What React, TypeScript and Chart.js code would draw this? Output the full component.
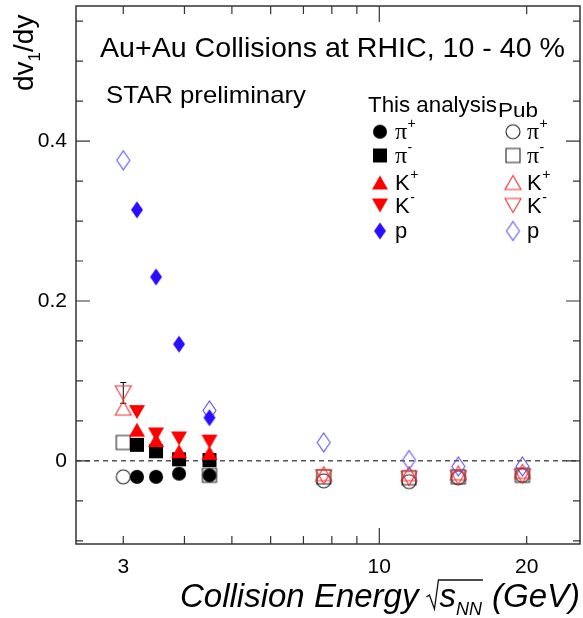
import React, { useEffect, useRef } from "react";
import { Chart, registerables } from "chart.js";

Chart.register(...registerables);

// ---------------- data ----------------
const energiesThis = [3.2, 3.5, 3.9, 4.5];
const thisPiPlus = [-0.02, -0.02, -0.016, -0.018];
const thisPiMinus = [0.02, 0.012, 0.002, 0.001];
const thisKPlus = [0.039, 0.026, 0.012, 0.01];
const thisKMinus = [0.061, 0.033, 0.028, 0.024];
const thisProton = [0.314, 0.23, 0.146, 0.054];

const energiesPub = [3.0, 4.5, 7.7, 11.5, 14.5, 19.6];
const pubPiPlus = [-0.02, null, -0.025, -0.026, -0.021, -0.018];
const pubPiMinus = [0.023, -0.018, -0.02, -0.021, -0.02, -0.018];
const pubKPlus = [0.066, null, -0.016, -0.016, -0.015, -0.013];
const pubKMinus = [0.085, null, -0.02, -0.022, -0.021, -0.019];
const pubKMinusErr = [0.013, 0, 0, 0, 0, 0];
const pubProton = [0.376, 0.063, 0.023, 0.001, -0.007, -0.007];

const xTickLabels = [3, 10, 20];
const yTickLabels = [0, 0.2, 0.4];
const xMinorTicks = [3, 4, 5, 6, 7, 8, 9, 20];
const xMajorTicks = [10];

// ---------------- styling ----------------
const SANS = "'Liberation Sans', Arial, Helvetica, sans-serif";
const SERIF = "'Liberation Serif', 'Times New Roman', serif";
const BLUE = "#2a0cff";
const BLUE_OPEN = "#5f4fee";
const RED = "#ff0000";
const RED_OPEN = "#f03030";

type Kind = "circle" | "square" | "up" | "down" | "diamond";

function makeMarker(kind: Kind, color: string, filled: boolean, w: number, h: number) {
  const pad = 2;
  const c = document.createElement("canvas");
  c.width = Math.ceil(w + pad * 2);
  c.height = Math.ceil(h + pad * 2);
  const ctx = c.getContext("2d")!;
  const cx = c.width / 2;
  const cy = c.height / 2;
  ctx.beginPath();
  if (kind === "circle") {
    ctx.ellipse(cx, cy, w / 2, h / 2, 0, 0, Math.PI * 2);
  } else if (kind === "square") {
    ctx.rect(cx - w / 2, cy - h / 2, w, h);
  } else if (kind === "up") {
    ctx.moveTo(cx, cy - h / 2);
    ctx.lineTo(cx + w / 2, cy + h / 2);
    ctx.lineTo(cx - w / 2, cy + h / 2);
    ctx.closePath();
  } else if (kind === "down") {
    ctx.moveTo(cx, cy + h / 2);
    ctx.lineTo(cx + w / 2, cy - h / 2);
    ctx.lineTo(cx - w / 2, cy - h / 2);
    ctx.closePath();
  } else {
    ctx.moveTo(cx, cy - h / 2);
    ctx.lineTo(cx + w / 2, cy);
    ctx.lineTo(cx, cy + h / 2);
    ctx.lineTo(cx - w / 2, cy);
    ctx.closePath();
  }
  if (filled) {
    ctx.fillStyle = color;
    ctx.fill();
  } else {
    ctx.strokeStyle = color;
    ctx.lineWidth = 1.1;
    ctx.stroke();
  }
  return c;
}

function pts(xs: number[], ys: (number | null)[]) {
  const out: { x: number; y: number }[] = [];
  xs.forEach((x, i) => {
    const y = ys[i];
    if (y !== null && y !== undefined) out.push({ x, y });
  });
  return out;
}

function zeroPad(axis: any) {
  axis.paddingTop = 0;
  axis.paddingBottom = 0;
  axis.paddingLeft = 0;
  axis.paddingRight = 0;
}

export default function App() {
  const ref = useRef<HTMLCanvasElement>(null);

  useEffect(() => {
    const canvas = ref.current!;
    const M = {
      fCircle: makeMarker("circle", "#000", true, 14, 14),
      fSquare: makeMarker("square", "#000", true, 14, 14),
      fUp: makeMarker("up", RED, true, 16, 14),
      fDown: makeMarker("down", RED, true, 16, 14),
      fDiamond: makeMarker("diamond", BLUE, true, 12, 17),
      oCircle: makeMarker("circle", "#222", false, 14, 14),
      oSquare: makeMarker("square", "#222", false, 14, 14),
      oUp: makeMarker("up", RED_OPEN, false, 16, 14),
      oDown: makeMarker("down", RED_OPEN, false, 16, 14),
      oDiamond: makeMarker("diamond", BLUE_OPEN, false, 13, 19),
    };

    const series = [
      { label: "Pub π+", data: pts(energiesPub, pubPiPlus), style: M.oCircle },
      { label: "Pub π-", data: pts(energiesPub, pubPiMinus), style: M.oSquare },
      { label: "Pub K+", data: pts(energiesPub, pubKPlus), style: M.oUp },
      { label: "Pub K-", data: pts(energiesPub, pubKMinus), style: M.oDown },
      { label: "Pub p", data: pts(energiesPub, pubProton), style: M.oDiamond },
      { label: "This π+", data: pts(energiesThis, thisPiPlus), style: M.fCircle },
      { label: "This π-", data: pts(energiesThis, thisPiMinus), style: M.fSquare },
      { label: "This K+", data: pts(energiesThis, thisKPlus), style: M.fUp },
      { label: "This K-", data: pts(energiesThis, thisKMinus), style: M.fDown },
      { label: "This p", data: pts(energiesThis, thisProton), style: M.fDiamond },
    ];
    const n = series.length;
    const datasets = series.map((s, i) => ({
      label: s.label,
      data: s.data,
      showLine: false,
      pointStyle: s.style as any,
      pointRadius: 6,
      pointHoverRadius: 6,
      order: n - i,
    }));

    const decor = {
      id: "decor",
      beforeDatasetsDraw(chart: any) {
        const { ctx, chartArea: a, scales } = chart;
        const xs = scales.x;
        const ys = scales.y;
        ctx.save();
        const y0 = ys.getPixelForValue(0);
        ctx.strokeStyle = "#555";
        ctx.lineWidth = 1.5;
        ctx.setLineDash([5, 4]);
        ctx.beginPath();
        ctx.moveTo(a.left, y0);
        ctx.lineTo(a.right, y0);
        ctx.stroke();
        ctx.setLineDash([]);
        ctx.strokeStyle = "#000";
        ctx.lineWidth = 1;
        energiesPub.forEach((e, i) => {
          const err = pubKMinusErr[i];
          const v = pubKMinus[i];
          if (!err || v === null) return;
          const px = xs.getPixelForValue(e);
          const pt = ys.getPixelForValue(v + err);
          const pb = ys.getPixelForValue(v - err);
          ctx.beginPath();
          ctx.moveTo(px, pt);
          ctx.lineTo(px, pb);
          ctx.moveTo(px - 3, pt);
          ctx.lineTo(px + 3, pt);
          ctx.moveTo(px - 3, pb);
          ctx.lineTo(px + 3, pb);
          ctx.stroke();
        });
        ctx.restore();
      },
      afterDraw(chart: any) {
        const { ctx, chartArea: a, scales } = chart;
        const xs = scales.x;
        const ys = scales.y;
        ctx.save();
        ctx.strokeStyle = "#333";
        ctx.lineWidth = 1.5;
        ctx.strokeRect(a.left, a.top, a.right - a.left, a.bottom - a.top);
        ctx.lineWidth = 1.2;
        ctx.beginPath();
        for (let k = -2; k <= 11; k++) {
          const v = k * 0.05;
          const py = ys.getPixelForValue(v);
          if (py < a.top || py > a.bottom) continue;
          const major = k % 4 === 0;
          const len = major ? 14 : 7;
          ctx.moveTo(a.left, py);
          ctx.lineTo(a.left + len, py);
          ctx.moveTo(a.right, py);
          ctx.lineTo(a.right - len, py);
        }
        const xt = [...xMinorTicks.map((v) => [v, 8]), ...xMajorTicks.map((v) => [v, 16])];
        xt.forEach(([v, len]) => {
          const px = xs.getPixelForValue(v);
          ctx.moveTo(px, a.bottom);
          ctx.lineTo(px, a.bottom - len);
          ctx.moveTo(px, a.top);
          ctx.lineTo(px, a.top + len);
        });
        ctx.stroke();

        ctx.fillStyle = "#000";
        ctx.textBaseline = "alphabetic";
        ctx.textAlign = "left";

        const fit = (text: string, x: number, y: number, font: string, width: number) => {
          ctx.font = font;
          const w = ctx.measureText(text).width;
          ctx.save();
          ctx.translate(x, y);
          ctx.scale(width / w, 1);
          ctx.fillText(text, 0, 0);
          ctx.restore();
        };

        fit("Au+Au Collisions at RHIC, 10 - 40 %", 100, 57, `28px ${SANS}`, 465);
        fit("STAR preliminary", 106, 103, `24px ${SANS}`, 200);
        fit("This analysis", 368, 111.5, `22px ${SANS}`, 129);
        fit("Pub", 498, 117, `21px ${SANS}`, 40);

        const rows: { l: any; r: any; base: string; sup: string; serif: boolean }[] = [
          { l: M.fCircle, r: M.oCircle, base: "π", sup: "+", serif: true },
          { l: M.fSquare, r: M.oSquare, base: "π", sup: "-", serif: true },
          { l: M.fUp, r: M.oUp, base: "K", sup: "+", serif: false },
          { l: M.fDown, r: M.oDown, base: "K", sup: "-", serif: false },
          { l: M.fDiamond, r: M.oDiamond, base: "p", sup: "", serif: false },
        ];
        const rowY = [131.7, 155.5, 182.5, 205.5, 231];
        const cols = [
          { mx: 380, tx: 395, key: "l" },
          { mx: 513, tx: 527, key: "r" },
        ];
        rows.forEach((row, i) => {
          const my = rowY[i];
          cols.forEach((c) => {
            const img = (row as any)[c.key] as HTMLCanvasElement;
            ctx.drawImage(img, c.mx - img.width / 2, my - img.height / 2);
            ctx.font = row.serif ? `24px ${SERIF}` : `22px ${SANS}`;
            const base = my + 7;
            ctx.fillText(row.base, c.tx, base);
            const bw = ctx.measureText(row.base).width;
            if (row.sup) {
              ctx.font = `14px ${SANS}`;
              ctx.fillText(row.sup, c.tx + bw + 0.5, base - 11);
            }
          });
        });

        // y axis title (rotated)
        ctx.save();
        ctx.translate(33, 91);
        ctx.rotate(-Math.PI / 2);
        ctx.font = `28px ${SANS}`;
        ctx.fillText("dv", 0, 0);
        let off = ctx.measureText("dv").width;
        ctx.font = `17px ${SANS}`;
        ctx.fillText("1", off, 7);
        off += ctx.measureText("1").width;
        ctx.font = `28px ${SANS}`;
        ctx.fillText("/dy", off, 0);
        ctx.restore();

        // x axis title
        const by = 607;
        ctx.font = `italic 33px ${SANS}`;
        const t1 = "Collision Energy";
        ctx.fillText(t1, 180, by);
        const rx = 180 + ctx.measureText(t1).width + 8;
        const sx = rx + 13;
        ctx.fillText("s", sx, by);
        const nx = sx + ctx.measureText("s").width;
        ctx.font = `italic 18px ${SANS}`;
        ctx.fillText("NN", nx, by + 8);
        const nEnd = nx + ctx.measureText("NN").width;
        ctx.strokeStyle = "#111";
        ctx.lineWidth = 1.3;
        ctx.beginPath();
        ctx.moveTo(rx, by - 10);
        ctx.lineTo(rx + 3, by - 12);
        ctx.lineTo(rx + 8, by + 2);
        ctx.lineTo(rx + 12, by - 27);
        ctx.lineTo(nEnd + 1, by - 27);
        ctx.stroke();
        ctx.font = `italic 33px ${SANS}`;
        ctx.textAlign = "right";
        ctx.fillText("(GeV)", 580, by);
        ctx.restore();
      },
    };

    const chart = new Chart(canvas, {
      type: "scatter",
      data: { datasets: datasets as any },
      options: {
        responsive: false,
        devicePixelRatio: 1,
        animation: false,
        events: [],
        layout: { autoPadding: false, padding: { top: 6, right: 3, left: 0, bottom: 0 } },
        plugins: { legend: { display: false }, tooltip: { enabled: false } },
        scales: {
          x: {
            type: "logarithmic",
            min: 2.402,
            max: 25.7,
            grid: { display: false, drawTicks: false },
            border: { display: false },
            afterBuildTicks: (axis: any) => {
              axis.ticks = xTickLabels.map((v) => ({ value: v }));
            },
            afterFit: (axis: any) => {
              axis.height = 74;
              zeroPad(axis);
            },
            ticks: {
              autoSkip: false,
              maxRotation: 0,
              padding: 11,
              color: "#000",
              font: { family: SANS, size: 21 },
              callback: (v: any) => String(v),
            },
          },
          y: {
            type: "linear",
            min: -0.104,
            max: 0.569,
            grid: { display: false, drawTicks: false },
            border: { display: false },
            afterBuildTicks: (axis: any) => {
              axis.ticks = yTickLabels.map((v) => ({ value: v }));
            },
            afterFit: (axis: any) => {
              axis.width = 76;
              zeroPad(axis);
            },
            ticks: {
              padding: 9,
              color: "#000",
              font: { family: SANS, size: 21 },
              callback: (v: any) => (v === 0 ? "0" : Number(v).toFixed(1)),
            },
          },
        },
      },
      plugins: [decor as any],
    });
    return () => chart.destroy();
  }, []);

  return (
    <div style={{ position: "absolute", left: 0, top: 0, width: 583, height: 618, background: "#fff" }}>
      <canvas ref={ref} width={583} height={618} style={{ display: "block", width: 583, height: 618 }} />
    </div>
  );
}
